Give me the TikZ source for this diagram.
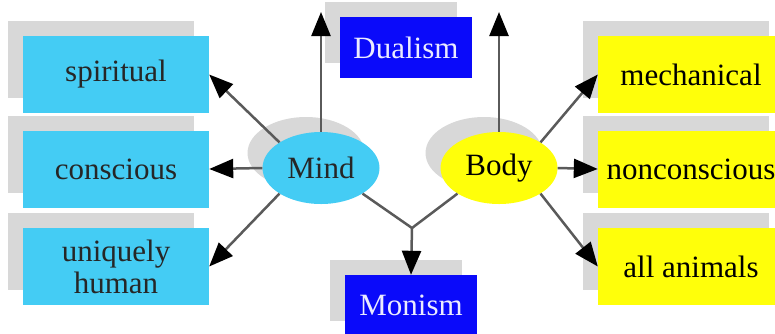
\documentclass[tikz,border=0pt]{standalone}
\usepackage{fontspec}
\setmainfont{Liberation Serif}
\usetikzlibrary{shapes.geometric,shadows,arrows.meta}
\definecolor{mindcyan}{HTML}{44CCF4}
\definecolor{bodyyellow}{HTML}{FFFF0A}
\definecolor{ismblue}{HTML}{0A0AFA}
\definecolor{shadegray}{HTML}{D8D8D8}
\definecolor{linkgray}{HTML}{5A5A5A}
\tikzset{
  backshadow/.style={general shadow={shadow xshift=-15pt,shadow yshift=15pt,fill=shadegray}},
  termbox/.style={rectangle,inner sep=0pt,minimum width=186pt,minimum height=77pt,align=center,backshadow},
  mindbox/.style={termbox,fill=mindcyan,text=black!85},
  bodybox/.style={termbox,fill=bodyyellow,text=black},
  ismbox/.style={rectangle,inner sep=0pt,minimum width=132pt,minimum height=61pt,fill=ismblue,text=white!92!blue,backshadow},
  oval/.style={ellipse,inner sep=0pt,minimum width=117pt,minimum height=72pt,backshadow},
  link/.style={draw=linkgray,line width=2.5pt,-{Triangle[length=24pt,width=19pt,black]}}
}
\begin{document}
\begin{tikzpicture}[x=1pt,y=-1pt,font=\fontsize{31}{32}\selectfont]
        \useasboundingbox (0,0) rectangle (775,333);
        \clip (0,0) rectangle (775,333);
        % mind side
        \node[mindbox] (spiritual) at (116,74.5) {spiritual};
        \node[mindbox] (conscious) at (116,169) {conscious};
        \node[mindbox] (human) at (116,266.5) {uniquely\\human};
        % body side
        \node[bodybox] (mechanical) at (691,74.5) {mechanical};
        \node[bodybox] (nonconscious) at (691,169) {nonconscious};
        \node[bodybox] (animals) at (691,266.5) {all animals};
        % the two views
        \node[ismbox] (dualism) at (406,47.5) {Dualism};
        \node[ismbox] (monism) at (411,305.5) {Monism};
        \node[oval,fill=mindcyan,text=black!85] (mind) at (321,168) {Mind};
        \node[oval,fill=bodyyellow] (body) at (499,168) {Body};
        \coordinate (mindup) at (321,12);
        \coordinate (bodyup) at (499,12);
        \coordinate (join) at (412,228);
        \draw[link] (mind.north) -- (mindup);
        \draw[link] (body.north) -- (bodyup);
        \draw[link] (mind.north west) -- (spiritual.east);
        \draw[link] (mind.west) -- (conscious.east);
        \draw[link] (mind.south west) -- (human.east);
        \draw[link] (body.north east) -- (mechanical.west);
        \draw[link] (body.east) -- (nonconscious.west);
        \draw[link] (body.south east) -- (animals.west);
        \draw[draw=linkgray,line width=2.5pt] (mind.south east) -- (join) -- (body.south west);
        \draw[link] (join) -- (monism.north);
    \end{tikzpicture}
\end{document}
